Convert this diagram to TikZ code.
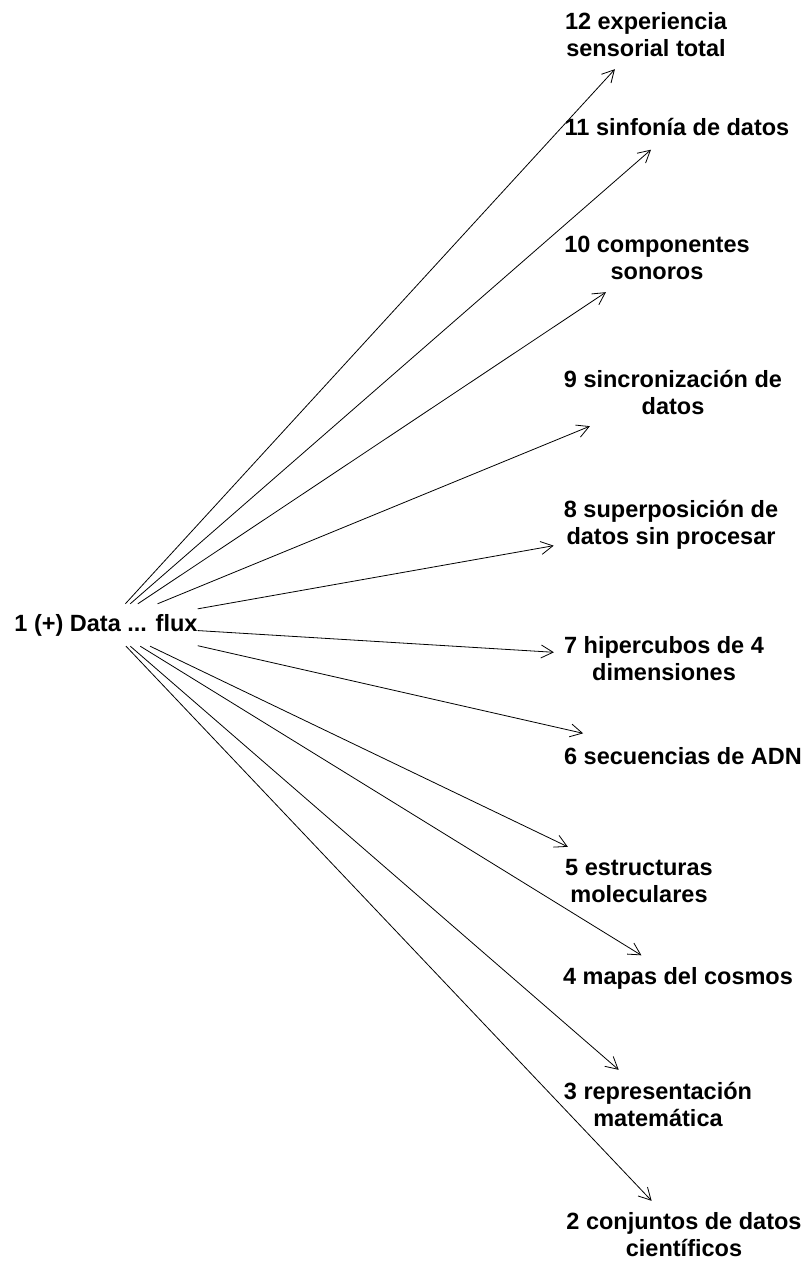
\documentclass[tikz,border=0pt]{standalone}
\usepackage{fontspec}
\setmainfont{Liberation Sans}
\usepackage{tikz}
\usetikzlibrary{arrows.meta}
\tikzset{x=1bp, y=-1bp,
  lbl/.style={font=\fontsize{23.5bp}{27bp}\selectfont\bfseries, align=center, inner sep=10bp, minimum height=45bp},
  lbltwo/.style={lbl, minimum height=68bp},
  edge/.style={-{Straight Barb[length=12bp,width=13bp]}, line width=0.8bp}}

\begin{document}
\begin{tikzpicture}
\useasboundingbox (0,0) rectangle (808,1262);
\node[lbl, inner xsep=0pt, minimum height=42bp] (d) at (106,625) {1 (+) Data ... flux};
\node[lbltwo] (exp) at (646,35) {12 experiencia\\sensorial total};
\node[lbl] (sinf) at (677,127) {11 sinfonía de datos};
\node[lbltwo] (son) at (657,258) {10 componentes\\sonoros};
\node[lbltwo] (sinc) at (673,392) {9 sincronización de\\datos};
\node[lbltwo] (sup) at (671,525) {8 superposición de\\datos sin procesar};
\node[lbltwo] (hip) at (664,659) {7 hipercubos de 4\\dimensiones};
\node[lbl] (adn) at (683,756) {6 secuencias de ADN};
\node[lbltwo] (mol) at (639,881) {5 estructuras\\moleculares};
\node[lbl] (cos) at (678,978) {4 mapas del cosmos};
\node[lbltwo] (mat) at (658,1104) {3 representación\\matemática};
\node[lbltwo] (cie) at (684,1235) {2 conjuntos de datos\\científicos};
\draw[edge] (d) to (exp);
\draw[edge] (d) to (sinf);
\draw[edge] (d) to (son);
\draw[edge] (d) to (sinc);
\draw[edge] (d) to (sup);
\draw[edge] (d) to (hip);
\draw[edge] (d) to (adn);
\draw[edge] (d) to (mol);
\draw[edge] (d) to (cos);
\draw[edge] (d) to (mat);
\draw[edge] (d) to (cie);
\end{tikzpicture}
\end{document}
